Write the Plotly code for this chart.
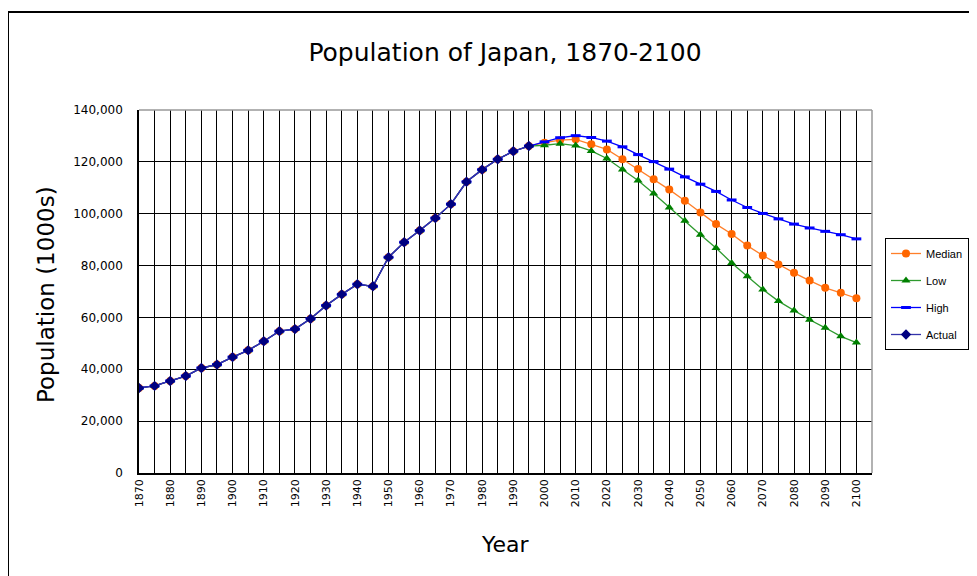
import plotly.graph_objects as go

years = list(range(1870, 2101, 5))
actual_years = list(range(1870, 1996, 5))
actual = [32800, 33600, 35500, 37400, 40500, 41800, 44700, 47300, 50800, 54700,
          55500, 59500, 64600, 68900, 72800, 72000, 83200, 89000, 93500, 98300,
          103700, 112300, 117000, 121000, 124100, 126100]
# projections 2000-2100
median_proj = [127400, 128350, 128700, 126800, 124800, 121000, 117200, 113300, 109300, 105000,
               100500, 96000, 92200, 87700, 83900, 80400, 77200, 74200, 71400, 69500, 67400]
low_proj = [126400, 127000, 126300, 124200, 121300, 117100, 112800, 107800, 102400, 97300,
            91900, 86800, 81000, 75900, 70800, 66300, 62700, 59100, 56000, 52700, 50300]
high_proj = [127700, 129300, 130100, 129400, 128000, 125800, 122800, 120100, 117200, 114200,
             111400, 108600, 105300, 102400, 100100, 98000, 96000, 94500, 93200, 91900, 90300]

median = actual + median_proj
low = actual + low_proj
high = actual + high_proj

x_tick_vals = years
x_tick_text = [str(y) if y % 10 == 0 else "" for y in years]
y_tick_vals = list(range(0, 140001, 20000))

# page body has an 8px margin; work in page pixels and subtract it
OFF = 8
W, H = 977 - OFF, 576 - OFF
L, R, T, B = 139 - OFF, 872 - OFF, 110 - OFF, 473 - OFF

def px_x(p):
    return (p - OFF - L) / (R - L)

def px_y(p):
    return (B - (p - OFF)) / (B - T)

fig = go.Figure()
fig.add_trace(go.Scatter(x=years, y=median, name="Median", mode="lines+markers",
                         line=dict(color="#FF7F2A", width=1.3),
                         marker=dict(symbol="circle", size=8, color="#FF6600"),
                         legendgroup="a"))
fig.add_trace(go.Scatter(x=years, y=low, name="Low", mode="lines+markers",
                         line=dict(color="#2E9A2E", width=1.3),
                         marker=dict(symbol="triangle-up", size=8, color="#008000"),
                         legendgroup="b"))
fig.add_trace(go.Scatter(x=years, y=high, name="High", mode="lines+markers",
                         line=dict(color="#0000FF", width=1.3),
                         marker=dict(symbol="line-ew", size=7, color="#0000FF",
                                     line=dict(color="#0000FF", width=3)),
                         legendgroup="c"))
fig.add_trace(go.Scatter(x=actual_years, y=actual, name="Actual", mode="lines+markers",
                         line=dict(color="#3333AA", width=1.3),
                         marker=dict(symbol="diamond", size=8, color="#000080"),
                         legendgroup="d"))

fig.update_layout(
    width=W, height=H,
    margin=dict(l=L, r=W - R, t=T, b=H - B),
    paper_bgcolor="white", plot_bgcolor="white",
    font=dict(family="DejaVu Sans", color="black"),
    title=dict(text="Population of Japan, 1870-2100",
               x=(505 - OFF) / W, xanchor="center",
               y=1 - (52 - OFF) / H, yanchor="middle", yref="container",
               font=dict(size=25, family="DejaVu Sans", color="black")),
    xaxis=dict(range=[1870, 2105], tickvals=x_tick_vals, ticktext=x_tick_text,
               tickangle=-90, showgrid=True, gridcolor="black", gridwidth=1,
               showline=True, linecolor="black", linewidth=1.5, zeroline=False,
               ticks="", tickfont=dict(size=11, family="DejaVu Sans")),
    yaxis=dict(range=[0, 140000], tickvals=y_tick_vals, tickformat=",d",
               showgrid=True, gridcolor="black", gridwidth=1,
               showline=True, linecolor="black", linewidth=1.5, zeroline=False,
               ticks="", ticklabelstandoff=12, tickfont=dict(size=12, family="DejaVu Sans")),
    legend=dict(xref="container", yref="container",
                x=(885 - OFF) / W, y=1 - (238 - OFF) / H, xanchor="left", yanchor="top",
                bordercolor="black", borderwidth=1, bgcolor="white",
                font=dict(size=11, family="Liberation Sans"), tracegroupgap=8,
                itemwidth=30),
    showlegend=True,
)

fig.add_annotation(text="Population (1000s)", x=px_x(46), y=px_y(295), xref="paper", yref="paper",
                   textangle=-90, showarrow=False, font=dict(size=23, family="DejaVu Sans"),
                   xanchor="center", yanchor="middle")
fig.add_annotation(text="Year", x=px_x(505), y=px_y(544), xref="paper", yref="paper",
                   showarrow=False, font=dict(size=22, family="DejaVu Sans"),
                   xanchor="center", yanchor="middle")

# plot area top/right border (grey)
fig.add_shape(type="line", xref="paper", yref="paper", x0=0, x1=1, y0=1, y1=1,
              line=dict(color="#999999", width=1.5))
fig.add_shape(type="line", xref="paper", yref="paper", x0=1, x1=1, y0=0, y1=1,
              line=dict(color="#999999", width=1.5))
# chart area border (left and top)
fig.add_shape(type="line", xref="paper", yref="paper", x0=px_x(8), x1=px_x(8), y0=px_y(12), y1=px_y(590),
              line=dict(color="black", width=2))
fig.add_shape(type="line", xref="paper", yref="paper", x0=px_x(8), x1=px_x(990), y0=px_y(12), y1=px_y(12),
              line=dict(color="black", width=2))

fig.write_html("out.html")
